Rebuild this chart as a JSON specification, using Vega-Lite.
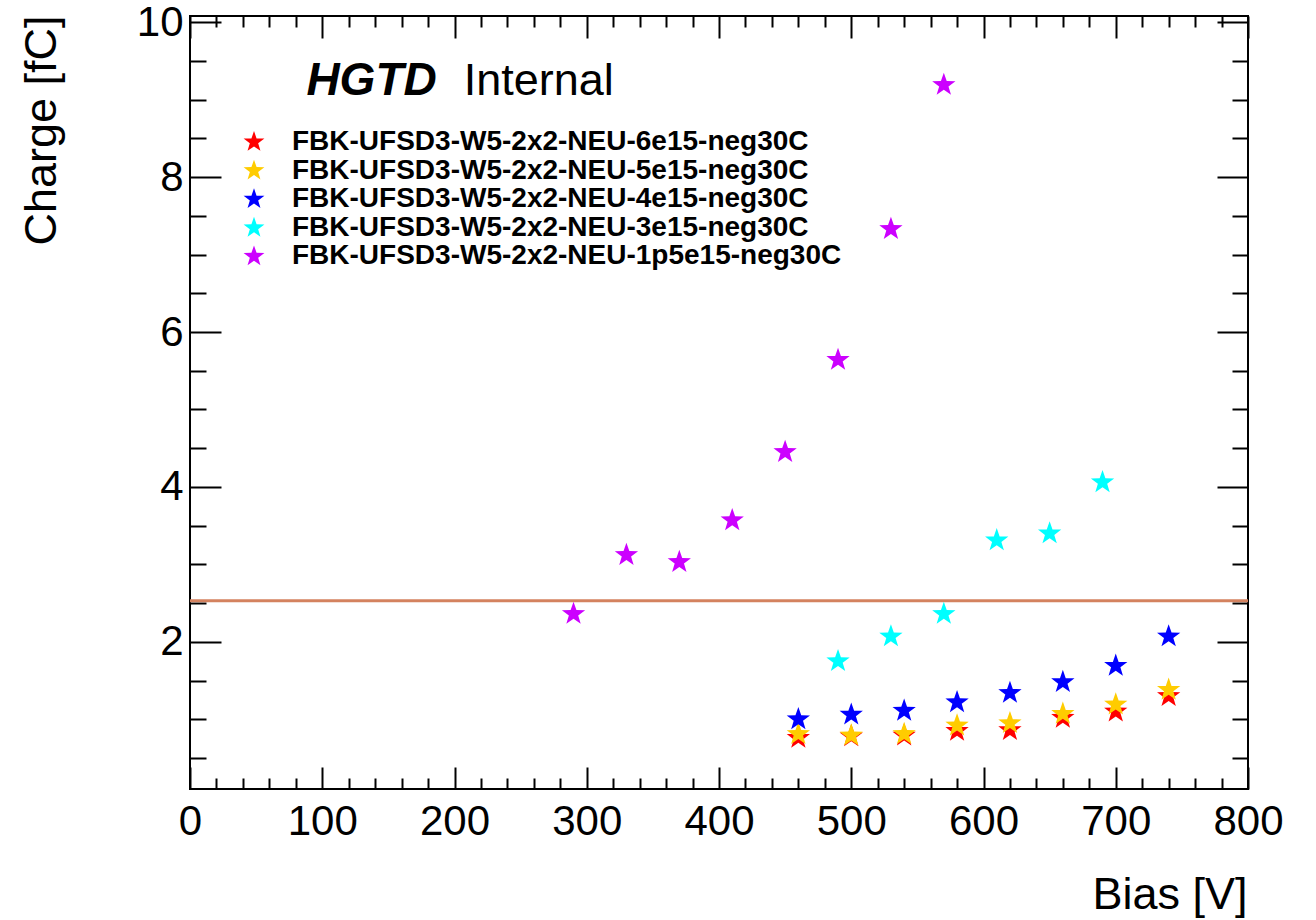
{
  "$schema": "https://vega.github.io/schema/vega-lite/v6.json",
  "width": 1058,
  "height": 773,
  "autosize": {"type": "none"},
  "padding": {"left": 190, "top": 16, "right": 68, "bottom": 131},
  "background": "white",
  "config": {
    "view": {"stroke": "black", "strokeWidth": 2},
    "font": "Liberation Sans",
    "axis": {"domain": false, "grid": false, "tickColor": "black", "tickWidth": 2, "labelColor": "black", "labelFont": "Liberation Sans", "labelFontSize": 42, "labelOverlap": false, "labelFlush": false, "titleFont": "Liberation Sans", "titleFontWeight": "normal", "titleFontSize": 45, "titleColor": "black"}
  },
  "datasets": {
    "pts": [
      {"sample": "FBK-UFSD3-W5-2x2-NEU-6e15-neg30C", "bias": 460, "charge": 0.76},
      {"sample": "FBK-UFSD3-W5-2x2-NEU-6e15-neg30C", "bias": 500, "charge": 0.78},
      {"sample": "FBK-UFSD3-W5-2x2-NEU-6e15-neg30C", "bias": 540, "charge": 0.79},
      {"sample": "FBK-UFSD3-W5-2x2-NEU-6e15-neg30C", "bias": 580, "charge": 0.85},
      {"sample": "FBK-UFSD3-W5-2x2-NEU-6e15-neg30C", "bias": 620, "charge": 0.86},
      {"sample": "FBK-UFSD3-W5-2x2-NEU-6e15-neg30C", "bias": 660, "charge": 1.02},
      {"sample": "FBK-UFSD3-W5-2x2-NEU-6e15-neg30C", "bias": 700, "charge": 1.10},
      {"sample": "FBK-UFSD3-W5-2x2-NEU-6e15-neg30C", "bias": 740, "charge": 1.30},
      {"sample": "FBK-UFSD3-W5-2x2-NEU-5e15-neg30C", "bias": 460, "charge": 0.81},
      {"sample": "FBK-UFSD3-W5-2x2-NEU-5e15-neg30C", "bias": 500, "charge": 0.79},
      {"sample": "FBK-UFSD3-W5-2x2-NEU-5e15-neg30C", "bias": 540, "charge": 0.81},
      {"sample": "FBK-UFSD3-W5-2x2-NEU-5e15-neg30C", "bias": 580, "charge": 0.92},
      {"sample": "FBK-UFSD3-W5-2x2-NEU-5e15-neg30C", "bias": 620, "charge": 0.95},
      {"sample": "FBK-UFSD3-W5-2x2-NEU-5e15-neg30C", "bias": 660, "charge": 1.07},
      {"sample": "FBK-UFSD3-W5-2x2-NEU-5e15-neg30C", "bias": 700, "charge": 1.19},
      {"sample": "FBK-UFSD3-W5-2x2-NEU-5e15-neg30C", "bias": 740, "charge": 1.38},
      {"sample": "FBK-UFSD3-W5-2x2-NEU-4e15-neg30C", "bias": 460, "charge": 1.00},
      {"sample": "FBK-UFSD3-W5-2x2-NEU-4e15-neg30C", "bias": 500, "charge": 1.06},
      {"sample": "FBK-UFSD3-W5-2x2-NEU-4e15-neg30C", "bias": 540, "charge": 1.11},
      {"sample": "FBK-UFSD3-W5-2x2-NEU-4e15-neg30C", "bias": 580, "charge": 1.22},
      {"sample": "FBK-UFSD3-W5-2x2-NEU-4e15-neg30C", "bias": 620, "charge": 1.34},
      {"sample": "FBK-UFSD3-W5-2x2-NEU-4e15-neg30C", "bias": 660, "charge": 1.48},
      {"sample": "FBK-UFSD3-W5-2x2-NEU-4e15-neg30C", "bias": 700, "charge": 1.69},
      {"sample": "FBK-UFSD3-W5-2x2-NEU-4e15-neg30C", "bias": 740, "charge": 2.07},
      {"sample": "FBK-UFSD3-W5-2x2-NEU-3e15-neg30C", "bias": 490, "charge": 1.75},
      {"sample": "FBK-UFSD3-W5-2x2-NEU-3e15-neg30C", "bias": 530, "charge": 2.07},
      {"sample": "FBK-UFSD3-W5-2x2-NEU-3e15-neg30C", "bias": 570, "charge": 2.36},
      {"sample": "FBK-UFSD3-W5-2x2-NEU-3e15-neg30C", "bias": 610, "charge": 3.31},
      {"sample": "FBK-UFSD3-W5-2x2-NEU-3e15-neg30C", "bias": 650, "charge": 3.40},
      {"sample": "FBK-UFSD3-W5-2x2-NEU-3e15-neg30C", "bias": 690, "charge": 4.06},
      {"sample": "FBK-UFSD3-W5-2x2-NEU-1p5e15-neg30C", "bias": 290, "charge": 2.36},
      {"sample": "FBK-UFSD3-W5-2x2-NEU-1p5e15-neg30C", "bias": 330, "charge": 3.12},
      {"sample": "FBK-UFSD3-W5-2x2-NEU-1p5e15-neg30C", "bias": 370, "charge": 3.03},
      {"sample": "FBK-UFSD3-W5-2x2-NEU-1p5e15-neg30C", "bias": 410, "charge": 3.57},
      {"sample": "FBK-UFSD3-W5-2x2-NEU-1p5e15-neg30C", "bias": 450, "charge": 4.45},
      {"sample": "FBK-UFSD3-W5-2x2-NEU-1p5e15-neg30C", "bias": 490, "charge": 5.64},
      {"sample": "FBK-UFSD3-W5-2x2-NEU-1p5e15-neg30C", "bias": 530, "charge": 7.33},
      {"sample": "FBK-UFSD3-W5-2x2-NEU-1p5e15-neg30C", "bias": 570, "charge": 9.19}
    ]
  },
  "resolve": {"axis": {"x": "independent", "y": "independent"}},
  "layer": [
    {
      "data": {"name": "pts"},
      "mark": {"type": "point", "opacity": 0},
      "encoding": {
        "x": {"field": "bias", "type": "quantitative", "scale": {"domain": [0, 800], "nice": false, "zero": false},
          "axis": {"orient": "bottom", "title": "Bias [V]", "values": [0,100,200,300,400,500,600,700,800], "tickSize": -22, "labelPadding": 34,
            "titleX": 1057, "titleY": 119, "titleAlign": "right", "titleBaseline": "alphabetic"}},
        "y": {"field": "charge", "type": "quantitative", "scale": {"domain": [0.1, 10.08], "nice": false, "zero": false},
          "axis": {"orient": "left", "title": "Charge [fC]", "values": [2,4,6,8,10], "format": "d", "tickSize": -31, "labelPadding": 38,
            "titleX": -135, "titleY": -1, "titleAngle": -90, "titleAlign": "right", "titleBaseline": "alphabetic"}}
      }
    },
    {
      "data": {"name": "pts"},
      "mark": {"type": "point", "opacity": 0},
      "encoding": {
        "x": {"field": "bias", "type": "quantitative",
          "axis": {"orient": "bottom", "title": null, "labels": false, "values": [20,40,60,80,120,140,160,180,220,240,260,280,320,340,360,380,420,440,460,480,520,540,560,580,620,640,660,680,720,740,760,780], "tickSize": -11}},
        "y": {"field": "charge", "type": "quantitative",
          "axis": {"orient": "left", "title": null, "labels": false, "values": [0.5,1,1.5,2.5,3,3.5,4.5,5,5.5,6.5,7,7.5,8.5,9,9.5], "tickSize": -16}}
      }
    },
    {
      "data": {"name": "pts"},
      "mark": {"type": "point", "opacity": 0},
      "encoding": {
        "x": {"field": "bias", "type": "quantitative",
          "axis": {"orient": "top", "title": null, "labels": false, "values": [0,100,200,300,400,500,600,700,800], "tickSize": -22}},
        "y": {"field": "charge", "type": "quantitative",
          "axis": {"orient": "right", "title": null, "labels": false, "values": [2,4,6,8,10], "tickSize": -31}}
      }
    },
    {
      "data": {"name": "pts"},
      "mark": {"type": "point", "opacity": 0},
      "encoding": {
        "x": {"field": "bias", "type": "quantitative",
          "axis": {"orient": "top", "title": null, "labels": false, "values": [20,40,60,80,120,140,160,180,220,240,260,280,320,340,360,380,420,440,460,480,520,540,560,580,620,640,660,680,720,740,760,780], "tickSize": -11}},
        "y": {"field": "charge", "type": "quantitative",
          "axis": {"orient": "right", "title": null, "labels": false, "values": [0.5,1,1.5,2.5,3,3.5,4.5,5,5.5,6.5,7,7.5,8.5,9,9.5], "tickSize": -16}}
      }
    },
    {
      "data": {"values": [{"c": 2.53}]},
      "mark": {"type": "rule", "color": "#d4825f", "strokeWidth": 3},
      "encoding": {"y": {"field": "c", "type": "quantitative", "axis": null}}
    },
    {
      "data": {"name": "pts"},
      "mark": {"type": "point", "shape": "M0,-1L0.2351,-0.3236L0.9511,-0.309L0.3804,0.1236L0.5878,0.809L0,0.4L-0.5878,0.809L-0.3804,0.1236L-0.9511,-0.309L-0.2351,-0.3236Z", "filled": true, "size": 600, "opacity": 1, "strokeWidth": 0},
      "encoding": {
        "x": {"field": "bias", "type": "quantitative", "axis": null},
        "y": {"field": "charge", "type": "quantitative", "axis": null},
        "color": {"field": "sample", "type": "nominal",
          "scale": {"domain": ["FBK-UFSD3-W5-2x2-NEU-6e15-neg30C", "FBK-UFSD3-W5-2x2-NEU-5e15-neg30C", "FBK-UFSD3-W5-2x2-NEU-4e15-neg30C", "FBK-UFSD3-W5-2x2-NEU-3e15-neg30C", "FBK-UFSD3-W5-2x2-NEU-1p5e15-neg30C"],
            "range": ["#ff0000", "#ffcc00", "#0000ff", "#00ffff", "#cc00ff"]},
          "legend": {"orient": "none", "legendX": 50, "legendY": 112, "title": null, "symbolType": "M0,-1L0.2351,-0.3236L0.9511,-0.309L0.3804,0.1236L0.5878,0.809L0,0.4L-0.5878,0.809L-0.3804,0.1236L-0.9511,-0.309L-0.2351,-0.3236Z", "symbolSize": 480, "symbolStrokeWidth": 0, "labelFont": "Liberation Sans", "labelFontWeight": "bold", "labelFontSize": 28, "labelColor": "black", "labelOffset": 24, "rowPadding": 0.6, "padding": 0, "labelLimit": 800}}
      }
    },
    {
      "data": {"values": [{"t": "HGTD", "bx": 88, "by": 9.06}]},
      "mark": {"type": "text", "font": "Liberation Sans", "fontSize": 46, "fontWeight": "bold", "fontStyle": "italic", "align": "left", "baseline": "alphabetic", "color": "black"},
      "encoding": {"x": {"field": "bx", "type": "quantitative", "axis": null}, "y": {"field": "by", "type": "quantitative", "axis": null}, "text": {"field": "t"}}
    },
    {
      "data": {"values": [{"t": "Internal", "bx": 207, "by": 9.06}]},
      "mark": {"type": "text", "font": "Liberation Sans", "fontSize": 45, "align": "left", "baseline": "alphabetic", "color": "black"},
      "encoding": {"x": {"field": "bx", "type": "quantitative", "axis": null}, "y": {"field": "by", "type": "quantitative", "axis": null}, "text": {"field": "t"}}
    }
  ]
}
